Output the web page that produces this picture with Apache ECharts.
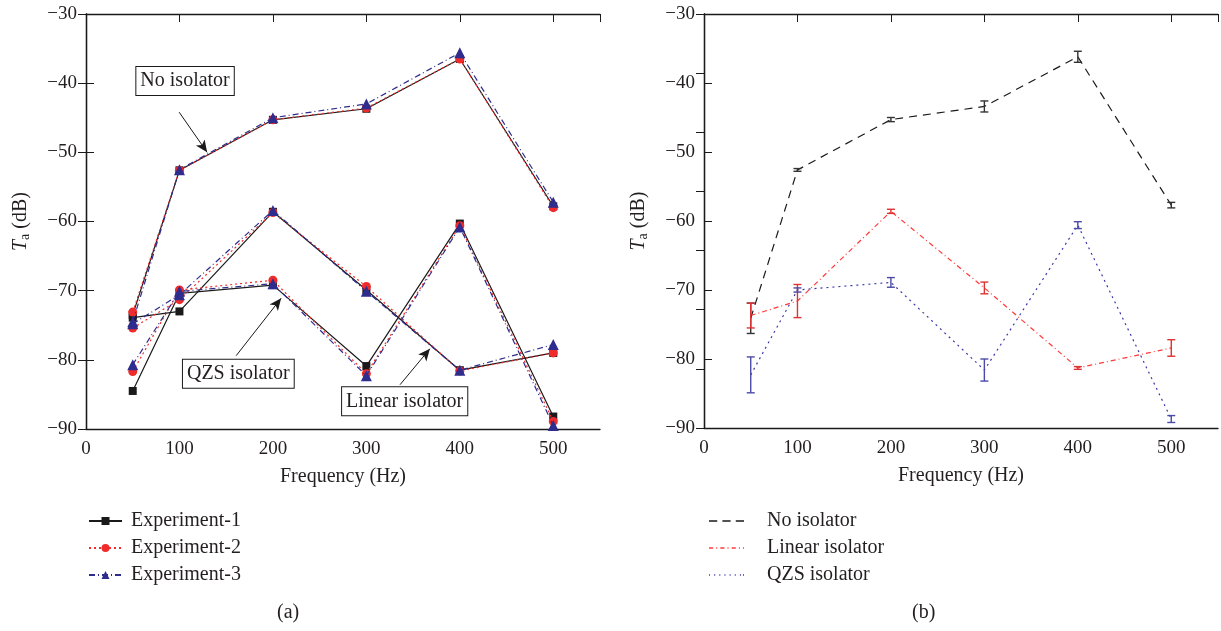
<!DOCTYPE html>
<html>
<head>
<meta charset="utf-8">
<script src="https://cdn.jsdelivr.net/npm/echarts@6/dist/echarts.min.js"></script>
<style>
  html, body { margin: 0; padding: 0; background: #fff; }
  #chart { width: 1221px; height: 631px; }
</style>
</head>
<body>
<div id="chart"></div>
<script>
const freqs = [50, 100, 200, 300, 400, 500];

// (a) three experiments for each isolator case
const noIso1 = [-73.5, -52.6, -45.3, -43.7, -36.5, -57.8];
const noIso2 = [-73.1, -52.6, -45.3, -43.6, -36.5, -58.0];
const noIso3 = [-74.5, -52.5, -45.0, -43.0, -35.6, -57.2];
const lin1 = [-73.9, -73.0, -58.6, -69.9, -81.5, -79.0];
const lin2 = [-75.4, -71.3, -58.7, -69.4, -81.6, -79.0];
const lin3 = [-74.8, -70.6, -58.4, -70.1, -81.5, -77.8];
const qzs1 = [-84.5, -70.4, -69.2, -80.9, -60.3, -88.2];
const qzs2 = [-81.7, -69.9, -68.5, -82.0, -60.6, -88.9];
const qzs3 = [-80.7, -70.1, -69.0, -82.3, -60.8, -89.5];

// (b) mean values with error half-widths
const noIsoMean = [-74.1, -52.6, -45.3, -43.4, -36.2, -57.7];
const noIsoErr = [2.2, 0.2, 0.3, 0.8, 0.8, 0.4];
const linMean = [-73.7, -71.6, -58.6, -69.7, -81.3, -78.4];
const linErr = [1.8, 2.4, 0.3, 0.85, 0.2, 1.2];
const qzsMean = [-82.3, -70.0, -68.9, -81.6, -60.6, -88.7];
const qzsErr = [2.6, 0.3, 0.7, 1.6, 0.5, 0.5];

const xTicks = [0, 100, 200, 300, 400, 500];

const FONT = '"Liberation Serif", "DejaVu Serif", serif';
const INK = '#231f20';
const BLACK = '#1a1a1a';
const RED = '#f02b2b';
const BLUE = '#2e2c8c';

const pair = (ys) => freqs.map((f, i) => [f, ys[i]]);
const minus = (v) => String(v).replace('-', '\u2212');

const chart = echarts.init(document.getElementById('chart'));

function xAxes(gridIndex) {
  return [
    {
      gridIndex, type: 'value', min: 0, max: 550, interval: 100, position: 'bottom',
      name: 'Frequency (Hz)', nameLocation: 'middle', nameGap: 38,
      nameTextStyle: { fontFamily: FONT, fontSize: 20, color: INK },
      axisLine: { lineStyle: { color: BLACK, width: 1.3 } },
      axisTick: { show: false },
      axisLabel: {
        fontFamily: FONT, fontSize: 19, color: INK, margin: 11,
        formatter: (v) => (xTicks.includes(v) ? String(v) : '')
      },
      splitLine: { show: false }
    },
    {
      gridIndex, type: 'value', min: 0, max: 550, interval: 100, position: 'top',
      axisLine: { lineStyle: { color: BLACK, width: 1.3 } },
      axisTick: { inside: true, length: 8, lineStyle: { color: BLACK } },
      axisLabel: { show: false },
      splitLine: { show: false }
    }
  ];
}

function yAxes(gridIndex, rightSplits) {
  const left = {
    gridIndex, type: 'value', min: -90, max: -30, interval: 10, position: 'left',
    name: '{i|T}{s|a}{n| (dB)}', nameLocation: 'middle', nameGap: 50,
    nameTextStyle: {
      fontFamily: FONT, fontSize: 20, color: INK,
      rich: {
        i: { fontFamily: FONT, fontSize: 20, fontStyle: 'italic', color: INK, lineHeight: 30, verticalAlign: 'middle' },
        s: { fontFamily: FONT, fontSize: 14, color: INK, lineHeight: 30, verticalAlign: 'bottom', padding: [0, 0, 4, 0] },
        n: { fontFamily: FONT, fontSize: 20, color: INK, lineHeight: 30, verticalAlign: 'middle' }
      }
    },
    axisLine: { lineStyle: { color: BLACK, width: 1.3 } },
    axisTick: { inside: true, length: 8, lineStyle: { color: BLACK } },
    axisLabel: { fontFamily: FONT, fontSize: 19, color: INK, margin: 9, formatter: minus },
    splitLine: { show: false }
  };
  const right = rightSplits
    ? {
        gridIndex, type: 'value', min: 0, max: rightSplits, interval: 1, position: 'right',
        axisLine: { lineStyle: { color: BLACK, width: 1.3 } },
        axisTick: { inside: true, length: 8, lineStyle: { color: BLACK } },
        axisLabel: { show: false }, splitLine: { show: false }
      }
    : {
        gridIndex, type: 'value', min: -90, max: -30, interval: 10, position: 'right',
        axisLine: { lineStyle: { color: BLACK, width: 1.3 } },
        axisTick: { inside: true, length: 8, lineStyle: { color: BLACK } },
        axisLabel: { show: false }, splitLine: { show: false }
      };
  return [left, right];
}

const expStyles = [
  { name: 'Experiment-1', color: BLACK, type: 'solid', symbol: 'rect', size: 8 },
  { name: 'Experiment-2', color: RED, type: [2, 3], symbol: 'circle', size: 9 },
  { name: 'Experiment-3', color: BLUE, type: [6, 3, 1, 3], symbol: 'triangle', size: 11 }
];
const expGroups = [
  [noIso1, noIso2, noIso3],
  [lin1, lin2, lin3],
  [qzs1, qzs2, qzs3]
];

const leftSeries = [];
expGroups.forEach((group) => {
  group.forEach((ys, k) => {
    const st = expStyles[k];
    leftSeries.push({
      name: st.name, type: 'line', xAxisIndex: 0, yAxisIndex: 0,
      data: pair(ys),
      symbol: st.symbol, symbolSize: st.size, showSymbol: true,
      lineStyle: { color: st.color, width: 1.2, type: st.type },
      itemStyle: { color: st.color },
      emphasis: { disabled: true }, silent: true, z: 3 + k
    });
  });
});

// annotation boxes and arrows in data space of panel (a)
const boxLabel = {
  show: true, position: 'inside', fontFamily: FONT, fontSize: 20, color: INK,
  backgroundColor: '#fff', borderColor: BLACK, borderWidth: 1, padding: [5, 4, 3, 4]
};
leftSeries.push({
  name: 'annotations', type: 'line', xAxisIndex: 0, yAxisIndex: 0, data: [],
  silent: true, z: 10,
  markPoint: {
    symbol: 'rect', symbolSize: 1, itemStyle: { color: 'rgba(0,0,0,0)' },
    label: boxLabel,
    data: [
      { coord: [106, -39.7], value: 'No isolator', label: { formatter: 'No isolator' } },
      { coord: [163, -82.0], value: 'QZS isolator', label: { formatter: 'QZS isolator' } },
      { coord: [341, -86.0], value: 'Linear isolator', label: { formatter: 'Linear isolator' } }
    ]
  },
  markLine: {
    silent: true, symbol: ['none', 'arrow'], symbolSize: [8, 12],
    label: { show: false },
    lineStyle: { color: BLACK, type: 'solid', width: 1 },
    data: [
      [{ coord: [99.7, -44.2] }, { coord: [129.6, -50.0] }],
      [{ coord: [160.7, -79.4] }, { coord: [208.8, -71.1] }],
      [{ coord: [336, -83.6] }, { coord: [368, -78.4] }]
    ]
  }
});

// legend icons for panel (b): dash patterns drawn as filled paths
const dashIcon = 'path://M0,0h8v1h-8zM13,0h8v1h-8zM26,0h8v1h-8z';
const dashDotIcon = 'path://M0,0h4v1h-4zM7,0h1v1h-1zM11,0h4v1h-4zM18,0h1v1h-1zM22,0h4v1h-4zM29,0h1v1h-1zM33,0h1v1h-1z';
const dotIcon = 'path://M0,0h1v1h-1zM5,0h1v1h-1zM10,0h1v1h-1zM15,0h1v1h-1zM20,0h1v1h-1zM25,0h1v1h-1zM30,0h1v1h-1zM33,0h1v1h-1z';

const isoStyles = [
  { name: 'No isolator', color: BLACK, type: [8, 6], mean: noIsoMean, err: noIsoErr, bar: '#333', icon: dashIcon },
  { name: 'Linear isolator', color: '#ff3a3a', type: [5, 3, 1, 3], mean: linMean, err: linErr, bar: '#dd3333', icon: dashDotIcon },
  { name: 'QZS isolator', color: '#3a38a8', type: [2, 4], mean: qzsMean, err: qzsErr, bar: '#4b4aa6', icon: dotIcon }
];

const rightSeries = [];
isoStyles.forEach((st, k) => {
  rightSeries.push({
    name: st.name, type: 'line', xAxisIndex: 2, yAxisIndex: 2,
    data: pair(st.mean), showSymbol: false, symbol: 'none',
    lineStyle: { color: st.color, width: 1.2, type: st.type },
    itemStyle: { color: st.color },
    emphasis: { disabled: true }, silent: true, z: 3
  });
  rightSeries.push({
    name: st.name + ' error', type: 'custom', xAxisIndex: 2, yAxisIndex: 2,
    data: freqs.map((f, i) => [f, st.mean[i] - st.err[i], st.mean[i] + st.err[i]]),
    silent: true, z: 4 + k,
    renderItem: (params, api) => {
      const lo = api.coord([api.value(0), api.value(1)]);
      const hi = api.coord([api.value(0), api.value(2)]);
      const w = 4;
      const style = { stroke: st.bar, lineWidth: 1.4 };
      return {
        type: 'group',
        children: [
          { type: 'line', shape: { x1: lo[0], y1: lo[1], x2: hi[0], y2: hi[1] }, style },
          { type: 'line', shape: { x1: lo[0] - w, y1: lo[1], x2: lo[0] + w, y2: lo[1] }, style },
          { type: 'line', shape: { x1: hi[0] - w, y1: hi[1], x2: hi[0] + w, y2: hi[1] }, style }
        ]
      };
    }
  });
});

const legendText = { fontFamily: FONT, fontSize: 20, color: INK };

chart.setOption({
  animation: false,
  backgroundColor: '#fff',
  grid: [
    { left: 86, top: 14, width: 514, height: 415 },
    { left: 704, top: 14, width: 514, height: 414 }
  ],
  xAxis: [...xAxes(0), ...xAxes(1)],
  yAxis: [...yAxes(0, 0), ...yAxes(1, 7)],
  legend: [
    {
      data: expStyles.map((s) => s.name), orient: 'vertical', left: 83, top: 506,
      itemWidth: 33, itemHeight: 10, itemGap: 7,
      textStyle: { ...legendText, padding: [0, 0, 0, 4] },
      selectedMode: false
    },
    {
      data: isoStyles.map((s) => ({ name: s.name, icon: s.icon })),
      orient: 'vertical', left: 704, top: 506,
      itemWidth: 35, itemHeight: 1.3, itemGap: 7, symbolKeepAspect: false,
      textStyle: { ...legendText, padding: [0, 0, 0, 18] },
      selectedMode: false
    }
  ],
  graphic: [
    { type: 'text', left: 277, top: 603, style: { text: '(a)', font: '20px ' + FONT, fill: INK } },
    { type: 'text', left: 912, top: 603, style: { text: '(b)', font: '20px ' + FONT, fill: INK } }
  ],
  series: [...leftSeries, ...rightSeries]
});
</script>
</body>
</html>
